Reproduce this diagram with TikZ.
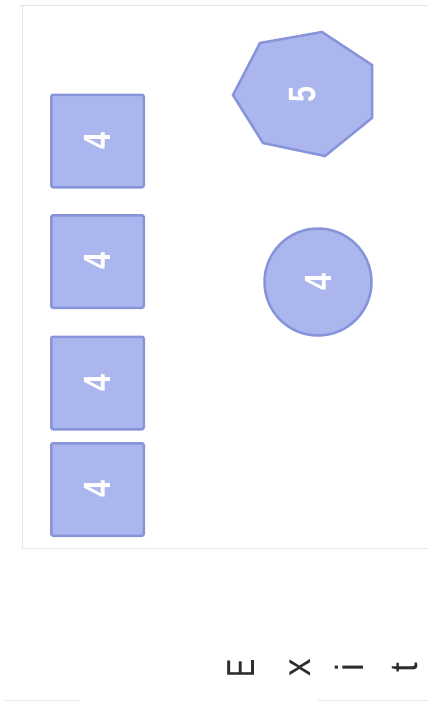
\documentclass[tikz,border=0pt]{standalone}
\usepackage{fontspec}
\setmainfont{Liberation Sans}
\usepackage{graphicx}
\definecolor{roomfill}{RGB}{172,182,238}
\definecolor{roomedge}{RGB}{136,148,218}
\definecolor{framec}{RGB}{222,230,240}
\definecolor{lettc}{RGB}{45,45,45}
\begin{document}
\begin{tikzpicture}[x=1pt,y=-1pt,
  room/.style={draw=roomedge, fill=roomfill, line width=2.5pt},
  desk/.style={room, rounded corners=2pt, minimum width=92.5pt, minimum height=92.5pt, inner sep=0pt},
  num/.style={text=white, font=\fontsize{38}{38}\selectfont\bfseries, rotate=90},
  lett/.style={text=lettc, font=\fontsize{39}{39}\selectfont, rotate=90, inner sep=0pt},
  frameline/.style={draw=framec, line width=1pt}]
\useasboundingbox (0,0) rectangle (428,702);
% faint frame
\coordinate (f1) at (20,5);
\coordinate (f2) at (428,5);
\coordinate (f3) at (22,5);
\coordinate (f4) at (22,548);
\coordinate (f5) at (428,548);
\draw[frameline] (f1) -- (f2);
\draw[frameline] (f3) -- (f4) -- (f5);
\coordinate (b1) at (5,700);
\coordinate (b2) at (80,700);
\coordinate (b3) at (318,700);
\coordinate (b4) at (428,700);
\draw[frameline] (b1) -- (b2);
\draw[frameline] (b3) -- (b4);
% desks
\node[desk, num] (d1) at (97.5,141) {\scalebox{0.8}[1]{4}};
\node[desk, num] (d2) at (97.5,261.5) {\scalebox{0.8}[1]{4}};
\node[desk, num] (d3) at (97.5,383) {\scalebox{0.8}[1]{4}};
\node[desk, num] (d4) at (97.5,489.5) {\scalebox{0.8}[1]{4}};
% heptagon
\draw[room] (322,32) -- (372,65) -- (372,118) -- (325,156) -- (263,143) -- (233,95) -- (260,43) -- cycle;
\node[num] (h5) at (303,95) {\scalebox{0.75}[1]{5}};
% round table
\node[room, circle, minimum size=107pt, inner sep=0pt, num] (c4) at (318,282) {\scalebox{0.8}[1]{4}};
% Exit
\node[lett] (e1) at (241,668) {\scalebox{0.7}[1]{E}};
\node[lett] (e2) at (300,668) {\scalebox{0.9}[1]{x}};
\node[lett] (e3) at (349,668) {\scalebox{0.9}[1]{i}};
\node[lett] (e4) at (405,668) {\scalebox{0.9}[1]{t}};
\end{tikzpicture}
\end{document}
